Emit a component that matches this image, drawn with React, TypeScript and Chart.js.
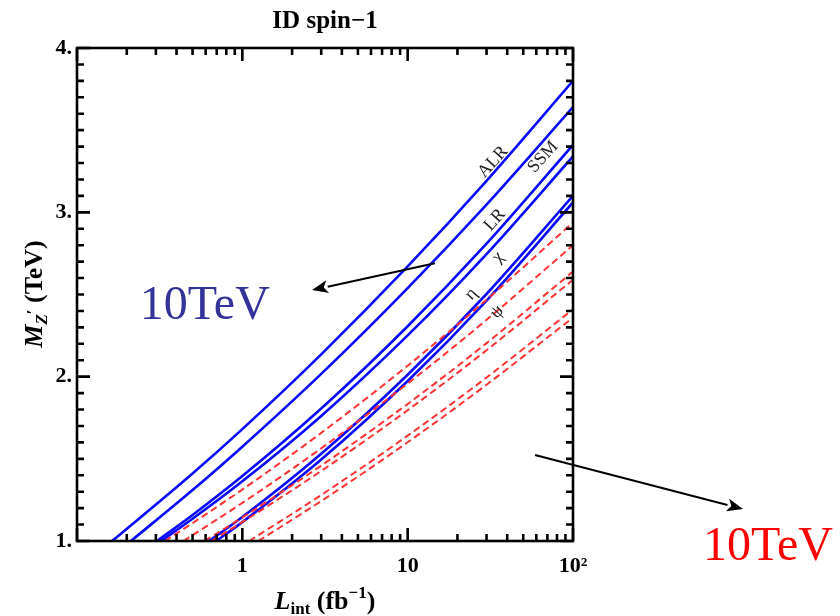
import { useEffect, useRef } from "react";
import { Chart, registerables } from "chart.js";

Chart.register(...registerables);

const SERIF = "'Liberation Serif', 'Times New Roman', serif";

// Z' discovery reach, solid blue curves: integrated luminosity (fb^-1) vs mass (TeV)
const alrLumi = [0.163, 0.5, 1, 3, 10, 30, 100];
const alrMass = [1.0, 1.411, 1.681, 2.136, 2.671, 3.192, 3.8];
const ssmLumi = [0.212, 0.5, 1, 3, 10, 30, 100];
const ssmMass = [1.0, 1.31, 1.574, 2.017, 2.539, 3.047, 3.64];
const lrLumi = [0.305, 0.5, 1, 3, 10, 30, 100];
const lrMass = [1.0, 1.158, 1.395, 1.806, 2.307, 2.809, 3.41];
const chiLumi = [0.323, 0.5, 1, 3, 10, 30, 100];
const chiMass = [1.0, 1.135, 1.363, 1.761, 2.251, 2.746, 3.34];
const etaLumi = [0.63, 1, 3, 10, 30, 100];
const etaMass = [1.0, 1.146, 1.531, 2.012, 2.503, 3.1];
const psiLumi = [0.695, 1, 3, 10, 30, 100];
const psiMass = [1.0, 1.115, 1.496, 1.974, 2.463, 3.06];

// Same models, dashed red curves
const alr10Lumi = [0.34, 0.5, 1, 3, 10, 30, 100];
const alr10Mass = [1.0, 1.109, 1.313, 1.658, 2.067, 2.468, 2.938];
const ssm10Lumi = [0.44, 1, 3, 10, 30, 100];
const ssm10Mass = [1.0, 1.232, 1.564, 1.958, 2.346, 2.8];
const lr10Lumi = [0.59, 1, 3, 10, 30, 100];
const lr10Mass = [1.0, 1.143, 1.459, 1.834, 2.204, 2.64];
const chi10Lumi = [0.65, 1, 3, 10, 30, 100];
const chi10Mass = [1.0, 1.115, 1.426, 1.796, 2.161, 2.59];
const eta10Lumi = [1.1, 3, 10, 30, 100];
const eta10Mass = [1.0, 1.28, 1.641, 1.995, 2.41];
const psi10Lumi = [1.25, 3, 10, 30, 100];
const psi10Mass = [1.0, 1.243, 1.601, 1.951, 2.36];

// Axis ticks
const xTickValues = [
  0.1, 0.2, 0.3, 0.4, 0.5, 0.6, 0.7, 0.8, 0.9,
  1, 2, 3, 4, 5, 6, 7, 8, 9,
  10, 20, 30, 40, 50, 60, 70, 80, 90, 100,
];
const xMajorValues = [0.1, 1, 10, 100];
const xLabelValues = [1, 10, 100];
const xLabelTexts = ["1", "10", "10²"];
const yLabelValues = [1, 2, 3, 4];
const yLabelTexts = ["1.", "2.", "3.", "4."];
const yMinorStep = 0.1;

// Model names written along the curves
const tagTexts = ["ALR", "SSM", "LR", "χ", "η", "ψ"];
const tagLumi = [32.8, 65.9, 33.7, 35.2, 24.2, 34.7];
const tagMass = [3.306, 3.337, 2.953, 2.728, 2.503, 2.394];

// Energy notes and their arrows
const noteTexts = ["10TeV", "10TeV"];
const noteColors = ["#333399", "#ff0000"];
const noteLumi = [0.24, 611];
const noteMass = [2.351, 0.884];
const arrowFromLumi = [14.6, 58.9];
const arrowFromMass = [2.69, 1.523];
const arrowToLumi = [2.64, 1067];
const arrowToMass = [2.527, 1.195];

const pts = (lumi: number[], mass: number[]) => lumi.map((l, i) => ({ x: l, y: mass[i] }));

const solid = (label: string, lumi: number[], mass: number[]) => ({
  label,
  data: pts(lumi, mass),
  borderColor: "#0808ff",
  borderWidth: 2.6,
  fill: false,
  pointRadius: 0,
  cubicInterpolationMode: "monotone" as const,
});

const dashed = (label: string, lumi: number[], mass: number[]) => ({
  label,
  data: pts(lumi, mass),
  borderColor: "#ff3333",
  borderWidth: 2,
  borderDash: [7, 4],
  fill: false,
  pointRadius: 0,
  cubicInterpolationMode: "monotone" as const,
});

type Run = { text: string; font: string; dy: number };

function runsWidth(ctx: CanvasRenderingContext2D, runs: Run[]) {
  let w = 0;
  for (const r of runs) {
    ctx.font = r.font;
    w += ctx.measureText(r.text).width;
  }
  return w;
}

function drawRuns(ctx: CanvasRenderingContext2D, x: number, y: number, runs: Run[]) {
  let cx = x;
  for (const r of runs) {
    ctx.font = r.font;
    ctx.fillText(r.text, cx, y + r.dy);
    cx += ctx.measureText(r.text).width;
  }
}

function arrow(ctx: CanvasRenderingContext2D, x1: number, y1: number, x2: number, y2: number) {
  const ang = Math.atan2(y2 - y1, x2 - x1);
  const len = 16;
  const half = 6.5;
  const bx = x2 - len * Math.cos(ang);
  const by = y2 - len * Math.sin(ang);
  ctx.beginPath();
  ctx.moveTo(x1, y1);
  ctx.lineTo(bx, by);
  ctx.lineWidth = 2;
  ctx.strokeStyle = "#000";
  ctx.stroke();
  ctx.beginPath();
  ctx.moveTo(x2, y2);
  ctx.lineTo(bx - half * Math.sin(ang), by + half * Math.cos(ang));
  ctx.lineTo(bx + 4 * Math.cos(ang), by + 4 * Math.sin(ang));
  ctx.lineTo(bx + half * Math.sin(ang), by - half * Math.cos(ang));
  ctx.closePath();
  ctx.fillStyle = "#000";
  ctx.fill();
}

const framePlugin = {
  id: "frameAndNotes",
  afterDraw(chart: any) {
    const { ctx, chartArea: a, scales } = chart;
    const xs = scales.x;
    const ys = scales.y;
    ctx.save();

    // frame
    ctx.strokeStyle = "#000";
    ctx.lineWidth = 2.6;
    ctx.strokeRect(a.left, a.top, a.right - a.left, a.bottom - a.top);

    // inward ticks on all four sides
    ctx.beginPath();
    for (const v of xTickValues) {
      const px = xs.getPixelForValue(v);
      const len = xMajorValues.includes(v) ? 13 : 7;
      ctx.moveTo(px, a.bottom);
      ctx.lineTo(px, a.bottom - len);
      ctx.moveTo(px, a.top);
      ctx.lineTo(px, a.top + len);
    }
    const n = Math.round((ys.max - ys.min) / yMinorStep);
    for (let k = 0; k <= n; k++) {
      const v = ys.min + k * yMinorStep;
      const py = ys.getPixelForValue(v);
      const len = k % 10 === 0 ? 13 : 7;
      ctx.moveTo(a.left, py);
      ctx.lineTo(a.left + len, py);
      ctx.moveTo(a.right, py);
      ctx.lineTo(a.right - len, py);
    }
    ctx.stroke();

    // model names along the curves
    ctx.fillStyle = "#222";
    ctx.font = `18px ${SERIF}`;
    ctx.textAlign = "center";
    ctx.textBaseline = "middle";
    tagTexts.forEach((t, i) => {
      ctx.save();
      ctx.translate(xs.getPixelForValue(tagLumi[i]), ys.getPixelForValue(tagMass[i]));
      ctx.rotate((-48 * Math.PI) / 180);
      ctx.fillText(t, 0, 0);
      ctx.restore();
    });

    // arrows and energy notes
    for (let i = 0; i < arrowFromLumi.length; i++) {
      arrow(
        ctx,
        xs.getPixelForValue(arrowFromLumi[i]),
        ys.getPixelForValue(arrowFromMass[i]),
        xs.getPixelForValue(arrowToLumi[i]),
        ys.getPixelForValue(arrowToMass[i])
      );
    }
    ctx.textAlign = "left";
    ctx.textBaseline = "alphabetic";
    ctx.font = `48px ${SERIF}`;
    noteTexts.forEach((t, i) => {
      ctx.fillStyle = noteColors[i];
      ctx.fillText(t, xs.getPixelForValue(noteLumi[i]), ys.getPixelForValue(noteMass[i]));
    });

    // title
    ctx.fillStyle = "#000";
    ctx.textAlign = "center";
    ctx.font = `bold 25px ${SERIF}`;
    ctx.fillText("ID spin\u22121", (a.left + a.right) / 2, 28);

    // x axis title: L_int (fb^-1)
    ctx.textAlign = "left";
    const xRuns: Run[] = [
      { text: "L", font: `italic bold 26px ${SERIF}`, dy: 0 },
      { text: "int", font: `bold 17px ${SERIF}`, dy: 5 },
      { text: " (fb", font: `bold 26px ${SERIF}`, dy: 0 },
      { text: "\u22121", font: `bold 17px ${SERIF}`, dy: -11 },
      { text: ")", font: `bold 26px ${SERIF}`, dy: 0 },
    ];
    const xw = runsWidth(ctx, xRuns);
    drawRuns(ctx, (a.left + a.right) / 2 - xw / 2, 609, xRuns);

    // y axis title: M_Z' (TeV)
    const yRuns: Run[] = [
      { text: "M", font: `italic bold 26px ${SERIF}`, dy: 0 },
      { text: "Z", font: `italic bold 17px ${SERIF}`, dy: 5 },
      { text: "\u2032", font: `bold 17px ${SERIF}`, dy: -4 },
      { text: " (TeV)", font: `bold 26px ${SERIF}`, dy: 0 },
    ];
    const yw = runsWidth(ctx, yRuns);
    ctx.save();
    ctx.translate(42, 294);
    ctx.rotate(-Math.PI / 2);
    drawRuns(ctx, -yw / 2, 0, yRuns);
    ctx.restore();

    ctx.restore();
  },
};

export default function App() {
  const ref = useRef<HTMLCanvasElement>(null);

  useEffect(() => {
    if (!ref.current) return;
    const chart = new Chart(ref.current, {
      type: "line",
      data: {
        datasets: [
          dashed("ALR 10 TeV", alr10Lumi, alr10Mass),
          dashed("SSM 10 TeV", ssm10Lumi, ssm10Mass),
          dashed("LR 10 TeV", lr10Lumi, lr10Mass),
          dashed("chi 10 TeV", chi10Lumi, chi10Mass),
          dashed("eta 10 TeV", eta10Lumi, eta10Mass),
          dashed("psi 10 TeV", psi10Lumi, psi10Mass),
          solid("ALR", alrLumi, alrMass),
          solid("SSM", ssmLumi, ssmMass),
          solid("LR", lrLumi, lrMass),
          solid("chi", chiLumi, chiMass),
          solid("eta", etaLumi, etaMass),
          solid("psi", psiLumi, psiMass),
        ],
      },
      options: {
        responsive: false,
        animation: false,
        layout: { padding: { top: 48, right: 267, left: 0, bottom: 0 } },
        plugins: {
          legend: { display: false },
          tooltip: { enabled: false },
          title: { display: false },
        },
        scales: {
          x: {
            type: "logarithmic",
            min: 0.1,
            max: 100,
            grid: { display: false, drawTicks: false },
            border: { display: false },
            afterBuildTicks: (s: any) => {
              s.ticks = xTickValues.map((v) => ({ value: v }));
            },
            afterFit: (s: any) => {
              s.height = 75;
            },
            ticks: {
              autoSkip: false,
              maxRotation: 0,
              padding: 12,
              color: "#000",
              font: { family: SERIF, size: 22, weight: "bold" },
              callback: (v: any) => {
                const i = xLabelValues.indexOf(Number(v));
                return i >= 0 ? xLabelTexts[i] : "";
              },
            },
          },
          y: {
            type: "linear",
            min: 1,
            max: 4,
            grid: { display: false, drawTicks: false },
            border: { display: false },
            afterBuildTicks: (s: any) => {
              s.ticks = yLabelValues.map((v) => ({ value: v }));
            },
            afterFit: (s: any) => {
              s.width = 77;
            },
            ticks: {
              padding: 5,
              color: "#000",
              font: { family: SERIF, size: 22, weight: "bold" },
              callback: (v: any) => {
                const i = yLabelValues.indexOf(Number(v));
                return i >= 0 ? yLabelTexts[i] : "";
              },
            },
          },
        },
      },
      plugins: [framePlugin],
    });
    return () => chart.destroy();
  }, []);

  return (
    <div style={{ position: "fixed", left: 0, top: 0, width: 840, height: 616, background: "#fff" }}>
      <canvas ref={ref} width={840} height={616} style={{ display: "block" }} />
    </div>
  );
}
